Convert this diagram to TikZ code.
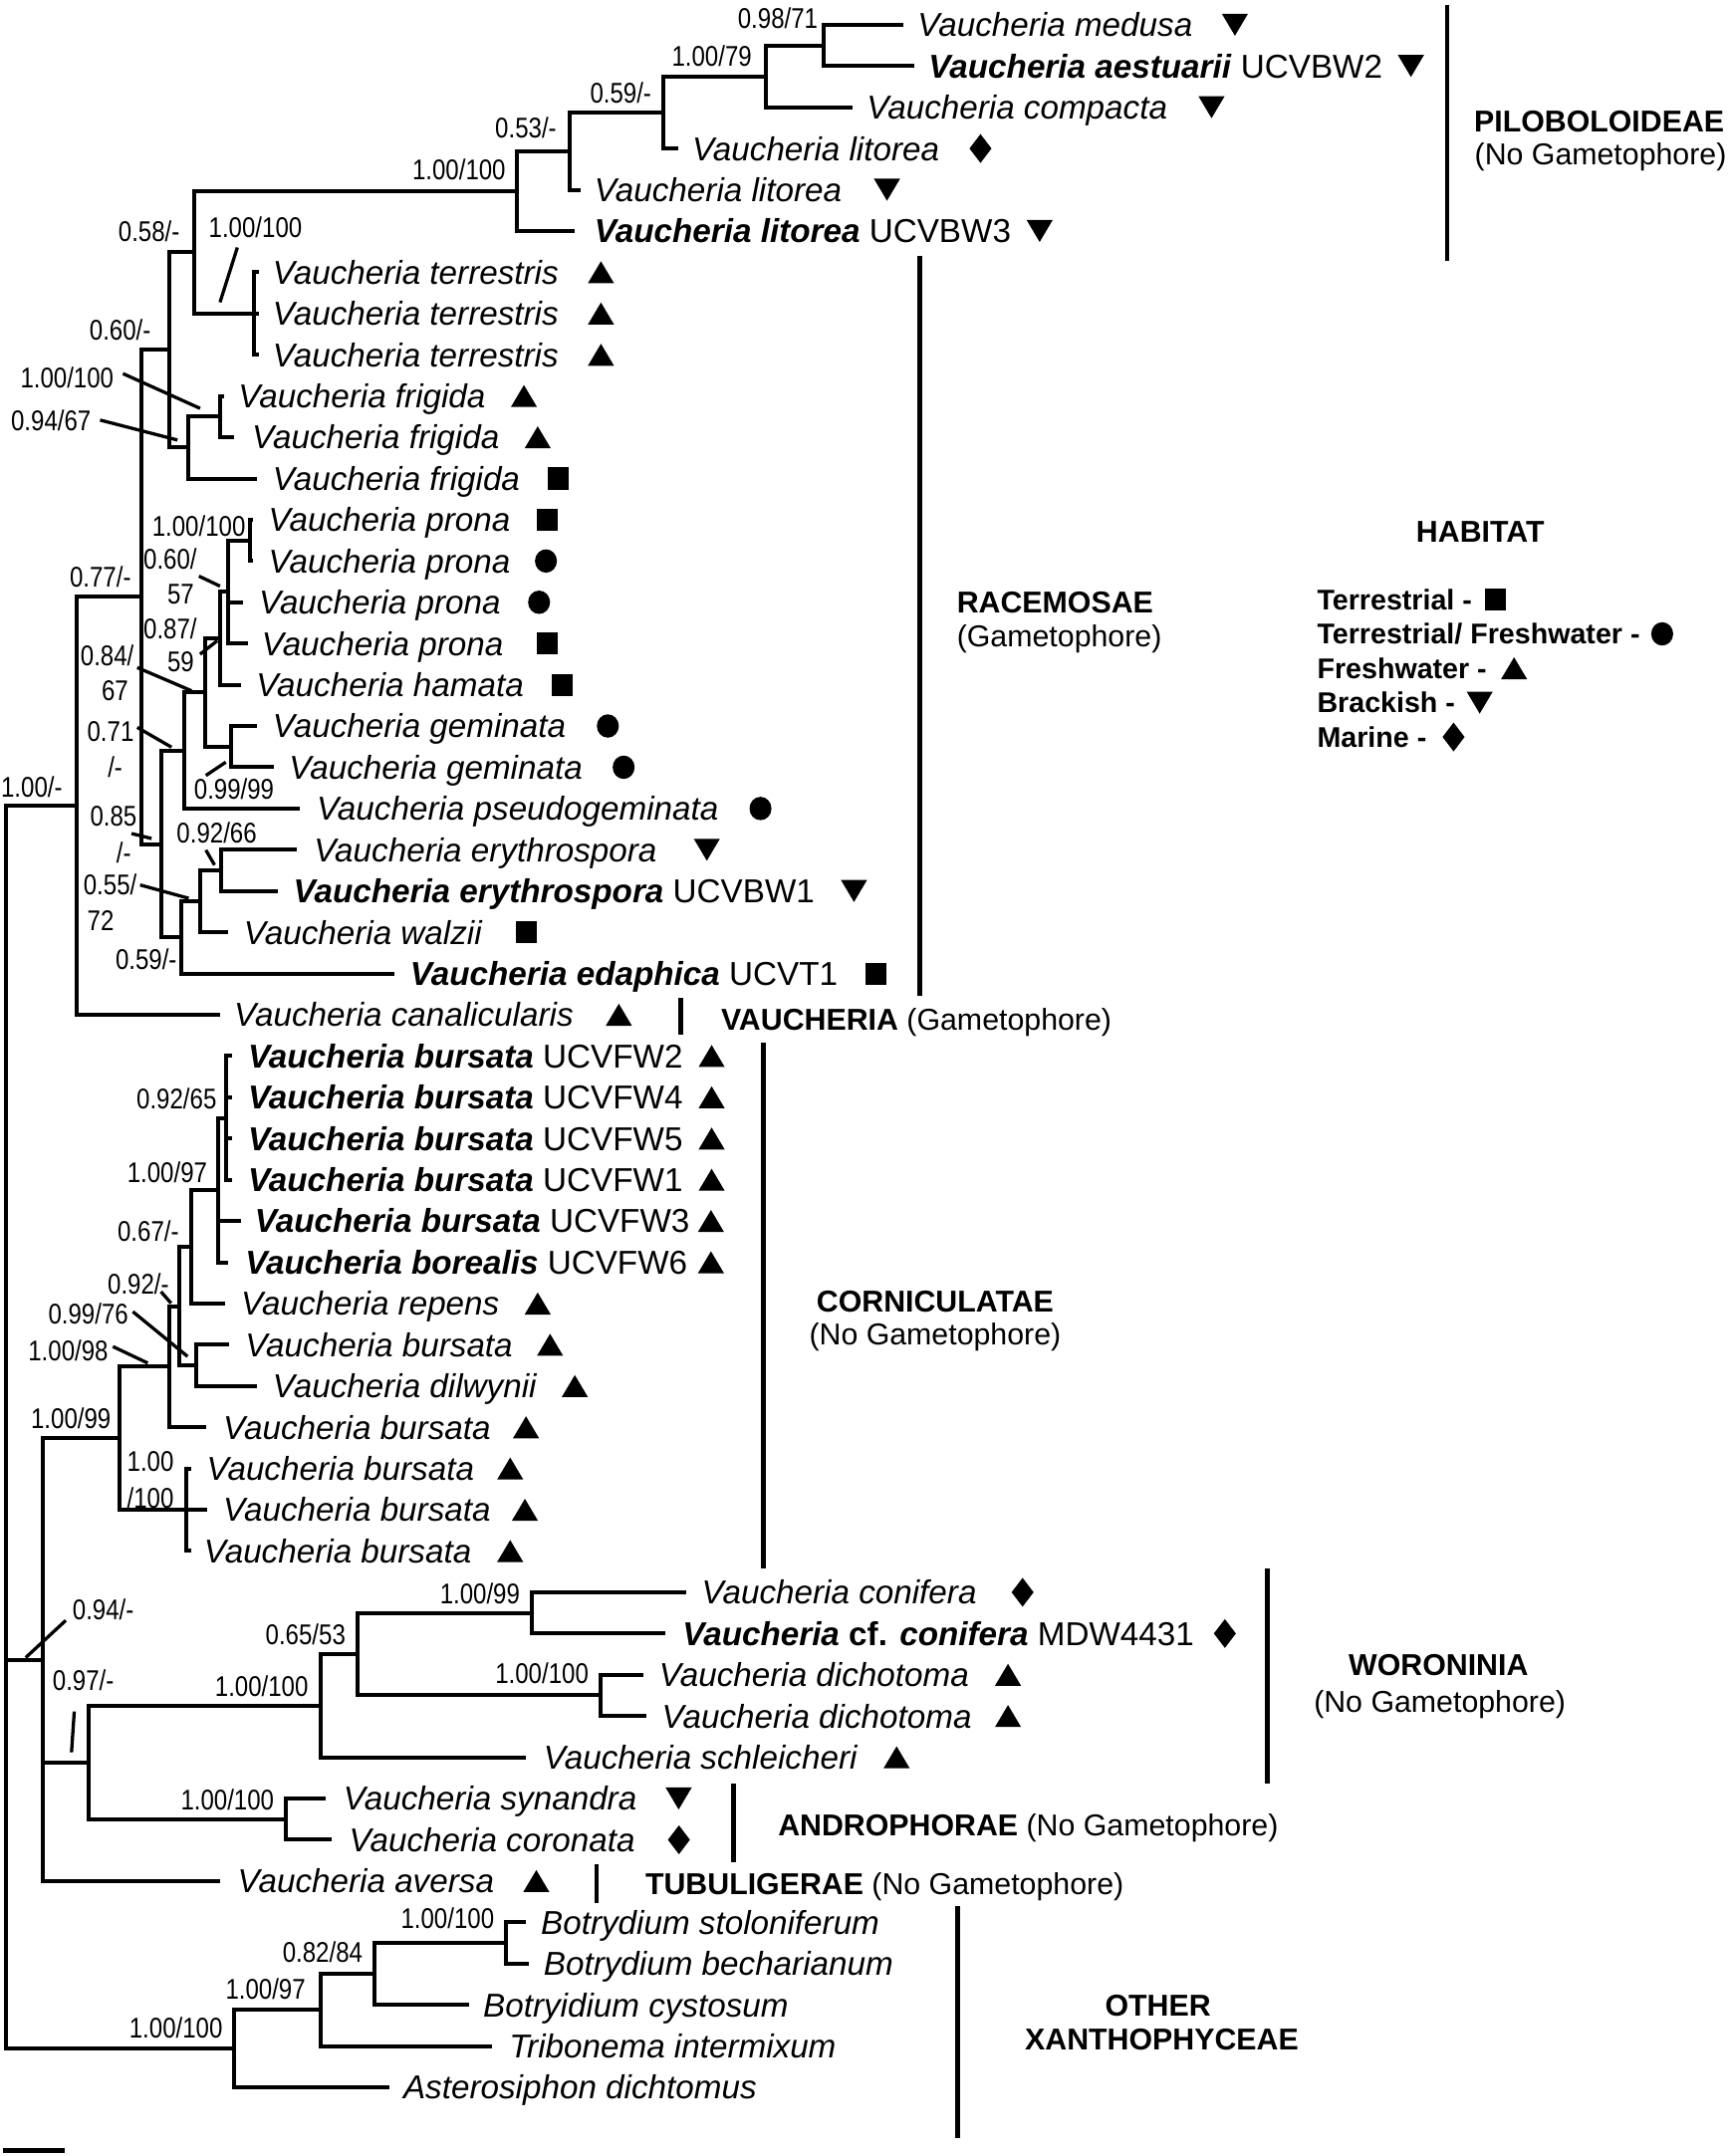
\documentclass[tikz,border=0pt]{standalone}
\usepackage{fontspec}
\setmainfont{Liberation Sans}
\newfontfamily\bsfont{Liberation Sans}[FakeStretch=0.84]

\begin{document}
\begin{tikzpicture}[
    x=0.02cm, y=-0.02cm,
    branch/.style={line width=1.65pt},
    leader/.style={line width=1.35pt},
    cladebar/.style={line width=1.9pt},
    taxon/.style={anchor=west, inner sep=0pt, font=\fontsize{13.7}{16}\selectfont\itshape, text height=9.8pt, text depth=0pt},
    bs/.style={anchor=east, inner sep=0pt, font=\bsfont\fontsize{11.8}{13}\selectfont, text height=8.4pt, text depth=0pt},
    cladename/.style={inner sep=0pt, font=\bfseries\fontsize{12.5}{15}\selectfont, text height=8.95pt, text depth=0pt},
    cladenote/.style={inner sep=0pt, font=\fontsize{12.5}{15}\selectfont, text height=8.95pt, text depth=0pt},
    legendtext/.style={anchor=west, inner sep=0pt, font=\bfseries\fontsize{11.8}{14}\selectfont, text height=8.45pt, text depth=0pt},
    habup/.pic={\fill (-9.5,8) -- (9.5,8) -- (0,-8) -- cycle;},
    habdown/.pic={\fill (-9.5,-8) -- (9.5,-8) -- (0,8) -- cycle;},
    habsq/.pic={\fill (-7.5,-8) rectangle (7.5,8);},
    habdot/.pic={\fill (0,0) ellipse [x radius=0.16cm, y radius=0.17cm];},
    habdia/.pic={\fill (0,-10.5) -- (8,0) -- (0,10.5) -- (-8,0) -- cycle;}
]
    \useasboundingbox (0,0) rectangle (1257,1568);

    % Internal nodes
    \coordinate (P5) at (599,33);
    \coordinate (P4) at (557,55.5);
    \coordinate (P3) at (482,81.75);
    \coordinate (P2) at (414,109.9);
    \coordinate (P1) at (376,138.9);
    \coordinate (T) at (185,228);
    \coordinate (N058) at (141,183.5);
    \coordinate (F1) at (160,303);
    \coordinate (N094) at (137,325.5);
    \coordinate (N060) at (123,254.5);
    \coordinate (Pr12) at (182,393);
    \coordinate (N060b) at (165.5,430.5);
    \coordinate (N087) at (160,464.25);
    \coordinate (G) at (168,543);
    \coordinate (N084) at (149,503.6);
    \coordinate (N071) at (134,545.8);
    \coordinate (E) at (161,633);
    \coordinate (N055) at (145.5,655.5);
    \coordinate (N059) at (132,681.75);
    \coordinate (N085) at (117,613.8);
    \coordinate (N077) at (103,434.1);
    \coordinate (N100a) at (56,586.1);
    \coordinate (C164) at (164.2,813);
    \coordinate (C159) at (158.7,865.5);
    \coordinate (C139) at (138.9,906.75);
    \coordinate (C142) at (142.4,993);
    \coordinate (C130) at (130.4,949.9);
    \coordinate (C123) at (123.1,994);
    \coordinate (C135) at (135.7,1098);
    \coordinate (C87) at (86.9,1046);
    \coordinate (W1) at (386.7,1173);
    \coordinate (W2) at (436.6,1233);
    \coordinate (N065) at (260,1203);
    \coordinate (N100w) at (233,1240.5);
    \coordinate (A) at (208,1323);
    \coordinate (N097) at (64.5,1281.75);
    \coordinate (N094b) at (31,1207);
    \coordinate (B1) at (368,1413);
    \coordinate (N082) at (272,1435.5);
    \coordinate (N100c) at (233,1461.75);
    \coordinate (N100o) at (170.5,1489.9);
    \coordinate (Root) at (4,1038);

    % Tip ends
    \coordinate (t00) at (657,18);
    \coordinate (t01) at (665,48);
    \coordinate (t02) at (620,78);
    \coordinate (t03) at (493,108);
    \coordinate (t04) at (422,138);
    \coordinate (t05) at (418,168);
    \coordinate (t06) at (188,198);
    \coordinate (t07) at (188,228);
    \coordinate (t08) at (188,258);
    \coordinate (t09) at (163,288);
    \coordinate (t10) at (170.5,318);
    \coordinate (t11) at (187,348);
    \coordinate (t12) at (184,378);
    \coordinate (t13) at (184,408);
    \coordinate (t14) at (177,438);
    \coordinate (t15) at (180,468);
    \coordinate (t16) at (175,498);
    \coordinate (t17) at (187,528);
    \coordinate (t18) at (199,558);
    \coordinate (t19) at (218,588);
    \coordinate (t20) at (216,618);
    \coordinate (t21) at (202,648);
    \coordinate (t22) at (165.5,678);
    \coordinate (t23) at (287,708);
    \coordinate (t24) at (160,738);
    \coordinate (t25) at (169,768);
    \coordinate (t26) at (169,798);
    \coordinate (t27) at (169,828);
    \coordinate (t28) at (169,858);
    \coordinate (t29) at (175,888);
    \coordinate (t30) at (165.5,918);
    \coordinate (t31) at (164,948);
    \coordinate (t32) at (166.6,978);
    \coordinate (t33) at (187,1008);
    \coordinate (t34) at (150,1038);
    \coordinate (t35) at (138.8,1068);
    \coordinate (t36) at (150.9,1098);
    \coordinate (t37) at (138.8,1128);
    \coordinate (t38) at (499,1158);
    \coordinate (t39) at (484,1188);
    \coordinate (t40) at (468,1218);
    \coordinate (t41) at (470,1248);
    \coordinate (t42) at (382.5,1278);
    \coordinate (t43) at (237,1308);
    \coordinate (t44) at (241,1338);
    \coordinate (t45) at (160,1368);
    \coordinate (t46) at (382.5,1398);
    \coordinate (t47) at (384.6,1428);
    \coordinate (t48) at (341,1458);
    \coordinate (t49) at (357.6,1488);
    \coordinate (t50) at (283,1518);

    % Branches
    \draw[branch] (P5) |- (t00) (P5) |- (t01);
    \draw[branch] (P4) |- (P5) (P4) |- (t02);
    \draw[branch] (P3) |- (P4) (P3) |- (t03);
    \draw[branch] (P2) |- (P3) (P2) |- (t04);
    \draw[branch] (P1) |- (P2) (P1) |- (t05);
    \draw[branch] (N058) |- (P1) (N058) |- (T);
    \draw[branch] (T) |- (t06) (T) |- (t07) (T) |- (t08);
    \draw[branch] (N060) |- (N058) (N060) |- (N094);
    \draw[branch] (N094) |- (F1) (N094) |- (t11);
    \draw[branch] (F1) |- (t09) (F1) |- (t10);
    \draw[branch] (N077) |- (N060) (N077) |- (N085);
    \draw[branch] (N085) |- (N071) (N085) |- (N059);
    \draw[branch] (N071) |- (N084) (N071) |- (t19);
    \draw[branch] (N084) |- (N087) (N084) |- (G);
    \draw[branch] (N087) |- (N060b) (N087) |- (t16);
    \draw[branch] (N060b) |- (Pr12) (N060b) |- (t14) (N060b) |- (t15);
    \draw[branch] (Pr12) |- (t12) (Pr12) |- (t13);
    \draw[branch] (G) |- (t17) (G) |- (t18);
    \draw[branch] (N059) |- (N055) (N059) |- (t23);
    \draw[branch] (N055) |- (E) (N055) |- (t22);
    \draw[branch] (E) |- (t20) (E) |- (t21);
    \draw[branch] (N100a) |- (N077) (N100a) |- (t24);
    \draw[branch] (Root) |- (N100a) (Root) |- (N094b) (Root) |- (N100o);
    \draw[branch] (N094b) |- (C87) (N094b) |- (N097) (N094b) |- (t45);
    \draw[branch] (C87) |- (C123) (C87) |- (C135);
    \draw[branch] (C123) |- (C130) (C123) |- (t34);
    \draw[branch] (C130) |- (C139) (C130) |- (C142);
    \draw[branch] (C139) |- (C159) (C139) |- (t31);
    \draw[branch] (C159) |- (C164) (C159) |- (t29) (C159) |- (t30);
    \draw[branch] (C164) |- (t25) (C164) |- (t26) (C164) |- (t27) (C164) |- (t28);
    \draw[branch] (C142) |- (t32) (C142) |- (t33);
    \draw[branch] (C135) |- (t35) (C135) |- (t36) (C135) |- (t37);
    \draw[branch] (N097) |- (N100w) (N097) |- (A);
    \draw[branch] (N100w) |- (N065) (N100w) |- (t42);
    \draw[branch] (N065) |- (W1) (N065) |- (W2);
    \draw[branch] (W1) |- (t38) (W1) |- (t39);
    \draw[branch] (W2) |- (t40) (W2) |- (t41);
    \draw[branch] (A) |- (t43) (A) |- (t44);
    \draw[branch] (N100o) |- (N100c) (N100o) |- (t50);
    \draw[branch] (N100c) |- (N082) (N100c) |- (t49);
    \draw[branch] (N082) |- (B1) (N082) |- (t48);
    \draw[branch] (B1) |- (t46) (B1) |- (t47);

    % Taxa
    \node[taxon] (l00) at (667,18) {Vaucheria medusa};
    \node[taxon] (l01) at (675,48) {\textbf{Vaucheria aestuarii} \textup{UCVBW2}};
    \node[taxon] (l02) at (630,78) {Vaucheria compacta};
    \node[taxon] (l03) at (503,108) {Vaucheria litorea};
    \node[taxon] (l04) at (432,138) {Vaucheria litorea};
    \node[taxon] (l05) at (432,168) {\textbf{Vaucheria litorea} \textup{UCVBW3}};
    \node[taxon] (l06) at (198,198) {Vaucheria terrestris};
    \node[taxon] (l07) at (198,228) {Vaucheria terrestris};
    \node[taxon] (l08) at (198,258) {Vaucheria terrestris};
    \node[taxon] (l09) at (173,288) {Vaucheria frigida};
    \node[taxon] (l10) at (183,318) {Vaucheria frigida};
    \node[taxon] (l11) at (198,348) {Vaucheria frigida};
    \node[taxon] (l12) at (195,378) {Vaucheria prona};
    \node[taxon] (l13) at (195,408) {Vaucheria prona};
    \node[taxon] (l14) at (188,438) {Vaucheria prona};
    \node[taxon] (l15) at (190,468) {Vaucheria prona};
    \node[taxon] (l16) at (186,498) {Vaucheria hamata};
    \node[taxon] (l17) at (198,528) {Vaucheria geminata};
    \node[taxon] (l18) at (210,558) {Vaucheria geminata};
    \node[taxon] (l19) at (230,588) {Vaucheria pseudogeminata};
    \node[taxon] (l20) at (228,618) {Vaucheria erythrospora};
    \node[taxon] (l21) at (213,648) {\textbf{Vaucheria erythrospora} \textup{UCVBW1}};
    \node[taxon] (l22) at (177,678) {Vaucheria walzii};
    \node[taxon] (l23) at (298,708) {\textbf{Vaucheria edaphica} \textup{UCVT1}};
    \node[taxon] (l24) at (170,738) {Vaucheria canalicularis};
    \node[taxon] (l25) at (180,768) {\textbf{Vaucheria bursata} \textup{UCVFW2}};
    \node[taxon] (l26) at (180,798) {\textbf{Vaucheria bursata} \textup{UCVFW4}};
    \node[taxon] (l27) at (180,828) {\textbf{Vaucheria bursata} \textup{UCVFW5}};
    \node[taxon] (l28) at (180,858) {\textbf{Vaucheria bursata} \textup{UCVFW1}};
    \node[taxon] (l29) at (185,888) {\textbf{Vaucheria bursata} \textup{UCVFW3}};
    \node[taxon] (l30) at (178,918) {\textbf{Vaucheria borealis} \textup{UCVFW6}};
    \node[taxon] (l31) at (175,948) {Vaucheria repens};
    \node[taxon] (l32) at (178,978) {Vaucheria bursata};
    \node[taxon] (l33) at (198,1008) {Vaucheria dilwynii};
    \node[taxon] (l34) at (162,1038) {Vaucheria bursata};
    \node[taxon] (l35) at (150,1068) {Vaucheria bursata};
    \node[taxon] (l36) at (162,1098) {Vaucheria bursata};
    \node[taxon] (l37) at (148,1128) {Vaucheria bursata};
    \node[taxon] (l38) at (510,1158) {Vaucheria conifera};
    \node[taxon] (l39) at (496,1188) {\textbf{Vaucheria \textup{cf.} conifera} \textup{MDW4431}};
    \node[taxon] (l40) at (479,1218) {Vaucheria dichotoma};
    \node[taxon] (l41) at (481,1248) {Vaucheria dichotoma};
    \node[taxon] (l42) at (395,1278) {Vaucheria schleicheri};
    \node[taxon] (l43) at (249.5,1308) {Vaucheria synandra};
    \node[taxon] (l44) at (253.6,1338) {Vaucheria coronata};
    \node[taxon] (l45) at (172.5,1368) {Vaucheria aversa};
    \node[taxon] (l46) at (393,1398) {Botrydium stoloniferum};
    \node[taxon] (l47) at (395,1428) {Botrydium becharianum};
    \node[taxon] (l48) at (351,1458) {Botryidium cystosum};
    \node[taxon] (l49) at (370,1488) {Tribonema intermixum};
    \node[taxon] (l50) at (293,1518) {Asterosiphon dichtomus};

    % Habitat symbols
    \pic at (898,18) {habdown};
    \pic at (1026,48) {habdown};
    \pic at (881,78) {habdown};
    \pic at (713,108) {habdia};
    \pic at (645,138) {habdown};
    \pic at (756,168) {habdown};
    \pic at (437,198) {habup};
    \pic at (437,228) {habup};
    \pic at (437,258) {habup};
    \pic at (381,288) {habup};
    \pic at (391,318) {habup};
    \pic at (406,348) {habsq};
    \pic at (398,378) {habsq};
    \pic at (397,408) {habdot};
    \pic at (392,438) {habdot};
    \pic at (398,468) {habsq};
    \pic at (409,498) {habsq};
    \pic at (442,528) {habdot};
    \pic at (453.5,558) {habdot};
    \pic at (553,588) {habdot};
    \pic at (514,618) {habdown};
    \pic at (621,648) {habdown};
    \pic at (383,678) {habsq};
    \pic at (637,708) {habsq};
    \pic at (450,738) {habup};
    \pic at (517.5,768) {habup};
    \pic at (517.5,798) {habup};
    \pic at (517.5,828) {habup};
    \pic at (517.5,858) {habup};
    \pic at (517,888) {habup};
    \pic at (517,918) {habup};
    \pic at (391,948) {habup};
    \pic at (400,978) {habup};
    \pic at (418,1008) {habup};
    \pic at (382.5,1038) {habup};
    \pic at (371,1068) {habup};
    \pic at (381.7,1098) {habup};
    \pic at (371,1128) {habup};
    \pic at (743.6,1158) {habdia};
    \pic at (890.7,1188) {habdia};
    \pic at (733,1218) {habup};
    \pic at (733,1248) {habup};
    \pic at (652,1278) {habup};
    \pic at (493.5,1308) {habdown};
    \pic at (493.7,1338) {habdia};
    \pic at (390,1368) {habup};

    % Support values
    \node[bs] (bP5) at (595,13) {0.98/71};
    \node[bs] (bP4) at (547,40.5) {1.00/79};
    \node[bs] (bP3) at (474,67.6) {0.59/-};
    \node[bs] (bP2) at (405,93) {0.53/-};
    \node[bs] (bP1) at (368,123.7) {1.00/100};
    \node[bs] (bN058) at (131,168.6) {0.58/-};
    \node[bs] (bT) at (220,165) {1.00/100};
    \node[bs] (bN060) at (110,239.6) {0.60/-};
    \node[bs] (bF1) at (83,274.8) {1.00/100};
    \node[bs] (bN094) at (66.5,306) {0.94/67};
    \node[bs] (bPr12) at (178.8,382.8) {1.00/100};
    \node[bs] (bN060bu) at (143.5,406.4) {0.60/};
    \node[bs] (bN060bl) at (141.4,431.7) {57};
    \node[bs] (bN087u) at (143.5,457) {0.87/};
    \node[bs] (bN087l) at (141.4,481.3) {59};
    \node[bs] (bN084u) at (97.7,477) {0.84/};
    \node[bs] (bN084l) at (93.6,502.3) {67};
    \node[bs] (bN071u) at (97.7,532) {0.71};
    \node[bs] (bN071l) at (89.4,558) {/-};
    \node[bs] (bN077) at (95.6,419.7) {0.77/-};
    \node[bs] (bN100a) at (45.7,572.4) {1.00/-};
    \node[bs] (bG) at (199.6,574) {0.99/99};
    \node[bs] (bN085u) at (99.8,593.5) {0.85};
    \node[bs] (bN085l) at (95.6,620) {/-};
    \node[bs] (bE) at (187,606) {0.92/66};
    \node[bs] (bN055u) at (99.8,643) {0.55/};
    \node[bs] (bN055l) at (83.2,669.6) {72};
    \node[bs] (bN059) at (128.9,697.4) {0.59/-};
    \node[bs] (bC164) at (157.8,799.3) {0.92/65};
    \node[bs] (bC159) at (151,852.5) {1.00/97};
    \node[bs] (bC139) at (130.4,895.3) {0.67/-};
    \node[bs] (bC130) at (123.2,934) {0.92/-};
    \node[bs] (bC142) at (93.6,955.8) {0.99/76};
    \node[bs] (bC123) at (79,982.4) {1.00/98};
    \node[bs] (bC87) at (81,1031.9) {1.00/99};
    \node[bs] (bC135u) at (126.7,1062.6) {1.00};
    \node[bs] (bC135l) at (126.7,1089.2) {/100};
    \node[bs] (bN094b) at (97.7,1170.4) {0.94/-};
    \node[bs] (bN097) at (83.2,1221.8) {0.97/-};
    \node[bs] (bN065) at (251.6,1188.6) {0.65/53};
    \node[bs] (bN100w) at (224.5,1226.5) {1.00/100};
    \node[bs] (bW1) at (378.4,1158.9) {1.00/99};
    \node[bs] (bW2) at (428.3,1217) {1.00/100};
    \node[bs] (bA) at (199.6,1308.9) {1.00/100};
    \node[bs] (bB1) at (359.7,1395.4) {1.00/100};
    \node[bs] (bN082) at (264,1419.7) {0.82/84};
    \node[bs] (bN100c) at (222.5,1446.8) {1.00/97};
    \node[bs] (bN100o) at (162.2,1475.1) {1.00/100};

    % Leader lines
    \coordinate (ldT1) at (172.6,180);      \coordinate (ldT2) at (160,219.8);
    \coordinate (ldF1) at (89.4,271.7);     \coordinate (ldF2) at (145.5,297);
    \coordinate (ld0941) at (72.8,305.5);   \coordinate (ld0942) at (129,320);
    \coordinate (ld0601) at (144.7,419);    \coordinate (ld0602) at (160,426.3);
    \coordinate (ld0871) at (145.5,475.8);  \coordinate (ld0872) at (158,466);
    \coordinate (ld0841) at (99.8,485.5);   \coordinate (ld0842) at (139.3,502.4);
    \coordinate (ld0711) at (99.8,529);     \coordinate (ld0712) at (124.7,543.4);
    \coordinate (ldG1) at (149.7,564);      \coordinate (ldG2) at (164.2,554.3);
    \coordinate (ld0851) at (95.6,606.2);   \coordinate (ld0852) at (110.2,609.8);
    \coordinate (ldE1) at (149.7,618.2);    \coordinate (ldE2) at (156,629.1);
    \coordinate (ld0551) at (101.9,643.6);  \coordinate (ld0552) at (137.2,653.3);
    \coordinate (ldC1301) at (117.1,939.4); \coordinate (ldC1302) at (124.4,947.8);
    \coordinate (ldC1421) at (96.6,953.9);  \coordinate (ldC1422) at (136.4,986.5);
    \coordinate (ldC1231) at (82.1,979.3);  \coordinate (ldC1232) at (107.4,991.3);
    \coordinate (ld094b1) at (18.7,1205.5); \coordinate (ld094b2) at (47.8,1178.5);
    \coordinate (ld0971) at (54,1244.7);    \coordinate (ld0972) at (52,1274.4);
    \draw[leader] (ldT1) -- (ldT2);
    \draw[leader] (ldF1) -- (ldF2);
    \draw[leader] (ld0941) -- (ld0942);
    \draw[leader] (ld0601) -- (ld0602);
    \draw[leader] (ld0871) -- (ld0872);
    \draw[leader] (ld0841) -- (ld0842);
    \draw[leader] (ld0711) -- (ld0712);
    \draw[leader] (ldG1) -- (ldG2);
    \draw[leader] (ld0851) -- (ld0852);
    \draw[leader] (ldE1) -- (ldE2);
    \draw[leader] (ld0551) -- (ld0552);
    \draw[leader] (ldC1301) -- (ldC1302);
    \draw[leader] (ldC1421) -- (ldC1422);
    \draw[leader] (ldC1231) -- (ldC1232);
    \draw[leader] (ld094b1) -- (ld094b2);
    \draw[leader] (ld0971) -- (ld0972);

    % Clade bars
    \coordinate (piloTop) at (1052.4,3.6);   \coordinate (piloBot) at (1052.4,189.6);
    \coordinate (raceTop) at (669,186);      \coordinate (raceBot) at (669,724);
    \coordinate (vaucTop) at (495,725.7);    \coordinate (vaucBot) at (495,752.3);
    \coordinate (cornTop) at (555,758.4);    \coordinate (cornBot) at (555,1141);
    \coordinate (woroTop) at (921.6,1140.5); \coordinate (woroBot) at (921.6,1297.2);
    \coordinate (andrTop) at (533.5,1297.4); \coordinate (andrBot) at (533.5,1354);
    \coordinate (tubuTop) at (433.7,1355.5); \coordinate (tubuBot) at (433.7,1384);
    \coordinate (othrTop) at (696.3,1386.3); \coordinate (othrBot) at (696.3,1555.3);
    \draw[cladebar] (piloTop) -- (piloBot);
    \draw[cladebar] (raceTop) -- (raceBot);
    \draw[cladebar] (vaucTop) -- (vaucBot);
    \draw[cladebar] (cornTop) -- (cornBot);
    \draw[cladebar] (woroTop) -- (woroBot);
    \draw[cladebar] (andrTop) -- (andrBot);
    \draw[cladebar] (tubuTop) -- (tubuBot);
    \draw[cladebar] (othrTop) -- (othrBot);

    % Clade names
    \node[cladename, anchor=west] (piloName) at (1071.6,88) {PILOBOLOIDEAE};
    \node[cladenote, anchor=west] (piloNote) at (1072,112) {(No Gametophore)};
    \node[cladename, anchor=west] (raceName) at (695.5,437.8) {RACEMOSAE};
    \node[cladenote, anchor=west] (raceNote) at (695.5,462.5) {(Gametophore)};
    \node[cladenote, anchor=west] (vaucName) at (524,741.4) {\textbf{VAUCHERIA} (Gametophore)};
    \node[cladename] (cornName) at (680,946) {CORNICULATAE};
    \node[cladenote] (cornNote) at (680,970) {(No Gametophore)};
    \node[cladename] (woroName) at (1046,1211) {WORONINIA};
    \node[cladenote] (woroNote) at (1047,1237.5) {(No Gametophore)};
    \node[cladenote, anchor=west] (andrName) at (565.5,1327) {\textbf{ANDROPHORAE} (No Gametophore)};
    \node[cladenote, anchor=west] (tubuName) at (469,1369.7) {\textbf{TUBULIGERAE} (No Gametophore)};
    \node[cladename] (othrName) at (842,1458.5) {OTHER};
    \node[cladename] (othrNote) at (844.8,1483) {XANTHOPHYCEAE};

    % Legend
    \node[cladename] (habTitle) at (1076.4,386.4) {HABITAT};
    \node[legendtext] (habTer) at (957.5,436) {Terrestrial -};
    \node[legendtext] (habTF) at (957.5,461) {Terrestrial/ Freshwater -};
    \node[legendtext] (habFW) at (957.5,486) {Freshwater -};
    \node[legendtext] (habBr) at (957.5,511) {Brackish -};
    \node[legendtext] (habMa) at (957.5,536) {Marine -};
    \pic at (1087.6,436) {habsq};
    \pic at (1208.7,461) {habdot};
    \pic at (1101,486) {habup};
    \pic at (1076,511) {habdown};
    \pic at (1057,536) {habdia};

    % Scale bar
    \coordinate (sbL) at (2.4,1564);
    \coordinate (sbR) at (47,1564);
    \draw[line width=2pt] (sbL) -- (sbR);
\end{tikzpicture}
\end{document}
